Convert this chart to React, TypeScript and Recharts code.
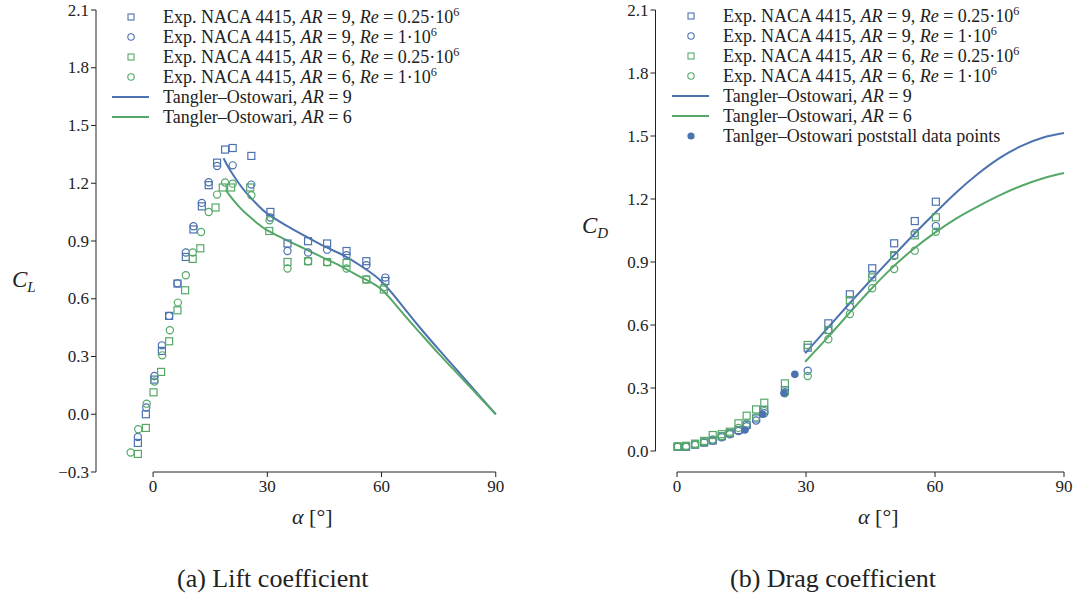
import React from "react";
import { ComposedChart, Scatter, Line, XAxis, YAxis, ReferenceLine } from "recharts";

const BLUE = "#4c72b0";
const GREEN = "#55a868";
const INK = "#222";
const SERIF = "Liberation Serif, Times New Roman, serif";

// ---- lift coefficient: experiments (alpha in deg) ----
const clAlpha9Lo = [-4, -1.9, 0.3, 2.3, 4.2, 6.4, 8.6, 10.6, 12.8, 14.6, 16.8, 18.9, 20.9, 25.8, 30.8, 35.3, 40.7, 45.7, 50.8, 56, 61];
const cl9Lo = [-0.149, 0.0, 0.18, 0.329, 0.511, 0.679, 0.817, 0.96, 1.08, 1.19, 1.307, 1.375, 1.383, 1.342, 1.051, 0.887, 0.899, 0.887, 0.848, 0.795, 0.692];
const clAlpha9Hi = [-4, -1.8, 0.35, 2.3, 4.2, 6.4, 8.6, 10.6, 12.8, 14.6, 16.8, 20.9, 25.8, 30.8, 35.3, 40.7, 45.7, 50.8, 56, 61];
const cl9Hi = [-0.118, 0.035, 0.199, 0.358, 0.511, 0.68, 0.84, 0.977, 1.098, 1.205, 1.29, 1.293, 1.193, 1.022, 0.848, 0.84, 0.855, 0.826, 0.774, 0.71];
const clAlpha6Lo = [-4, -1.9, 0.1, 2.1, 4.2, 6.4, 8.4, 10.4, 12.4, 16.4, 18.3, 20.5, 25.5, 30.5, 35.3, 40.7, 45.7, 50.8, 56, 60.6];
const cl6Lo = [-0.206, -0.071, 0.114, 0.22, 0.379, 0.54, 0.644, 0.807, 0.862, 1.074, 1.178, 1.178, 1.178, 0.952, 0.791, 0.795, 0.791, 0.786, 0.7, 0.648];
const clAlpha6Hi = [-5.9, -3.9, -1.7, 0.35, 2.4, 4.4, 6.5, 8.6, 10.4, 12.6, 14.6, 16.8, 18.9, 20.9, 25.8, 30.6, 35.3, 40.7, 45.7, 50.8, 56, 60.6];
const cl6Hi = [-0.199, -0.078, 0.055, 0.17, 0.306, 0.436, 0.58, 0.722, 0.84, 0.947, 1.051, 1.141, 1.204, 1.198, 1.138, 1.008, 0.757, 0.795, 0.79, 0.757, 0.7, 0.66];

// ---- lift coefficient: Tangler-Ostowari ----
const clTOAlpha9 = [18.5, 20, 22.5, 25, 27.5, 30, 35, 40, 45, 50, 55, 60, 65, 70, 75, 80, 85, 90];
const clTO9 = [1.33, 1.275, 1.2, 1.138, 1.086, 1.042, 0.98, 0.925, 0.872, 0.825, 0.765, 0.69, 0.575, 0.452, 0.337, 0.225, 0.112, 0];
const clTOAlpha6 = [19.2, 20, 22.5, 25, 27.5, 30, 35, 40, 45, 50, 55, 60, 65, 70, 75, 80, 85, 90];
const clTO6 = [1.164, 1.14, 1.08, 1.032, 0.99, 0.955, 0.905, 0.858, 0.81, 0.762, 0.708, 0.648, 0.538, 0.425, 0.315, 0.21, 0.105, 0];

// ---- drag coefficient: experiments ----
const cdAlpha = [0.15, 2.1, 4.2, 6.3, 8.3, 10.4, 12.3, 14.3, 16.2, 18.4, 20.3, 25.1, 30.4, 35.2, 40.2, 45.4, 50.5, 55.3, 60.2];
const cd9Lo = [0.02, 0.02, 0.03, 0.04, 0.05, 0.07, 0.085, 0.1, 0.125, 0.155, 0.195, 0.29, 0.492, 0.608, 0.746, 0.87, 0.989, 1.095, 1.187];
const cd9Hi = [0.02, 0.02, 0.03, 0.04, 0.05, 0.065, 0.08, 0.095, 0.118, 0.145, 0.18, 0.28, 0.382, 0.576, 0.687, 0.84, 0.93, 1.037, 1.071];
const cd6Lo = [0.022, 0.025, 0.035, 0.048, 0.076, 0.08, 0.092, 0.132, 0.168, 0.198, 0.23, 0.322, 0.505, 0.576, 0.719, 0.827, 0.933, 1.027, 1.113];
const cd6Hi = [0.02, 0.02, 0.03, 0.042, 0.055, 0.07, 0.085, 0.11, 0.13, 0.16, 0.19, 0.275, 0.357, 0.532, 0.652, 0.775, 0.867, 0.954, 1.044];
const poststallAlpha = [15.8, 19.9, 24.9, 27.4];
const poststallCd = [0.1, 0.175, 0.275, 0.365];

// ---- drag coefficient: Tangler-Ostowari ----
const cdTOAlpha = [29.8, 35, 40, 45, 50, 55, 60, 65, 70, 75, 80, 85, 90];
const cdTO9 = [0.465, 0.585, 0.7, 0.812, 0.922, 1.03, 1.133, 1.232, 1.32, 1.395, 1.452, 1.492, 1.514];
const cdTO6 = [0.425, 0.54, 0.655, 0.768, 0.872, 0.962, 1.04, 1.108, 1.165, 1.217, 1.262, 1.298, 1.324];

const alphaTicks = [0, 30, 60, 90];
const clTicks = [-0.3, 0, 0.3, 0.6, 0.9, 1.2, 1.5, 1.8, 2.1];
const cdTicks = [0, 0.3, 0.6, 0.9, 1.2, 1.5, 1.8, 2.1];

const pts = (a: number[], v: number[]) => a.map((x, i) => ({ a: x, v: v[i] }));

const fmt = (v: number) => (v < 0 ? "\u2212" + Math.abs(v).toFixed(1) : v.toFixed(1));

const square = (color: string) => (p: any) => (
  <rect x={p.cx - 3.5} y={p.cy - 3.5} width={7} height={7} fill="none" stroke={color} strokeWidth={1.2} />
);
const circle = (color: string) => (p: any) => (
  <circle cx={p.cx} cy={p.cy} r={3.6} fill="none" stroke={color} strokeWidth={1.2} />
);
const dot = (p: any) => <circle cx={p.cx} cy={p.cy} r={3.8} fill={BLUE} />;

const XTick = (p: any) => (
  <text x={p.x} y={p.y} dy={13} textAnchor="middle" fill={INK} fontSize={17} fontFamily={SERIF}>
    {p.payload.value}
  </text>
);
const YTick = (p: any) => (
  <text x={p.x} y={p.y} dy={5.5} textAnchor="end" fill={INK} fontSize={17} fontFamily={SERIF}>
    {fmt(p.payload.value)}
  </text>
);

function Marker({ kind, color }: { kind: string; color: string }) {
  return (
    <svg width={51} height={20} style={{ display: "block" }}>
      {kind === "square" && <rect x={16} y={7} width={6} height={6} fill="none" stroke={color} strokeWidth={1.1} />}
      {kind === "circle" && <circle cx={19} cy={10} r={3.2} fill="none" stroke={color} strokeWidth={1.1} />}
      {kind === "line" && <line x1={0} x2={37} y1={10} y2={10} stroke={color} strokeWidth={2} />}
      {kind === "dot" && <circle cx={19} cy={10} r={3.6} fill={color} />}
    </svg>
  );
}

function Row({ kind, color, children }: { kind: string; color: string; children: React.ReactNode }) {
  return (
    <div style={{ display: "flex", alignItems: "center", height: 20, lineHeight: "20px", whiteSpace: "nowrap" }}>
      <Marker kind={kind} color={color} />
      <span>{children}</span>
    </div>
  );
}

const Sup = ({ children }: { children: React.ReactNode }) => (
  <sup style={{ fontSize: "0.68em", lineHeight: 0, verticalAlign: "0.55em" }}>{children}</sup>
);

function ExpRows() {
  return (
    <>
      <Row kind="square" color={BLUE}>Exp. NACA 4415, <i>AR</i> = 9, <i>Re</i> = 0.25·10<Sup>6</Sup></Row>
      <Row kind="circle" color={BLUE}>Exp. NACA 4415, <i>AR</i> = 9, <i>Re</i> = 1·10<Sup>6</Sup></Row>
      <Row kind="square" color={GREEN}>Exp. NACA 4415, <i>AR</i> = 6, <i>Re</i> = 0.25·10<Sup>6</Sup></Row>
      <Row kind="circle" color={GREEN}>Exp. NACA 4415, <i>AR</i> = 6, <i>Re</i> = 1·10<Sup>6</Sup></Row>
      <Row kind="line" color={BLUE}>Tangler–Ostowari, <i>AR</i> = 9</Row>
      <Row kind="line" color={GREEN}>Tangler–Ostowari, <i>AR</i> = 6</Row>
    </>
  );
}

const abs = (left: number, top: number, extra: React.CSSProperties = {}): React.CSSProperties => ({
  position: "absolute",
  left,
  top,
  fontFamily: SERIF,
  color: INK,
  ...extra,
});

function AxisTitle({ left, top, main, sub }: { left: number; top: number; main: string; sub: string }) {
  return (
    <div style={abs(left, top, { fontSize: 23, fontStyle: "italic", lineHeight: "24px" })}>
      {main}
      <span style={{ fontSize: 15, verticalAlign: "-0.3em" }}>{sub}</span>
    </div>
  );
}

function AlphaTitle({ left, top }: { left: number; top: number }) {
  return (
    <div style={abs(left, top, { fontSize: 22, lineHeight: "24px" })}>
      <i>α</i> [°]
    </div>
  );
}

export default function App() {
  return (
    <div style={{ position: "absolute", left: 0, top: 0, width: 1076, height: 598, background: "#fff" }}>
      {/* (a) lift */}
      <div style={{ position: "absolute", left: 0, top: 0 }}>
        <ComposedChart width={520} height={598} margin={{ top: 10, right: 5.2, left: 36, bottom: 96 }}>
          <XAxis
            type="number"
            dataKey="a"
            domain={[-15, 95]}
            ticks={alphaTicks}
            allowDataOverflow
            axisLine={false}
            tickLine={{ stroke: INK }}
            tickSize={5}
            height={30}
            tick={XTick}
          />
          <YAxis
            type="number"
            dataKey="v"
            domain={[-0.3, 2.1]}
            ticks={clTicks}
            allowDataOverflow
            axisLine={{ stroke: INK }}
            tickLine={{ stroke: INK }}
            tickSize={5}
            width={60}
            tick={YTick}
          />
          <ReferenceLine segment={[{ x: 0, y: -0.3 }, { x: 90, y: -0.3 }]} stroke={INK} ifOverflow="visible" />
          <Line data={pts(clTOAlpha9, clTO9)} dataKey="v" type="natural" stroke={BLUE} strokeWidth={2} dot={false} isAnimationActive={false} />
          <Line data={pts(clTOAlpha6, clTO6)} dataKey="v" type="natural" stroke={GREEN} strokeWidth={2} dot={false} isAnimationActive={false} />
          <Scatter data={pts(clAlpha9Lo, cl9Lo)} shape={square(BLUE)} isAnimationActive={false} />
          <Scatter data={pts(clAlpha9Hi, cl9Hi)} shape={circle(BLUE)} isAnimationActive={false} />
          <Scatter data={pts(clAlpha6Lo, cl6Lo)} shape={square(GREEN)} isAnimationActive={false} />
          <Scatter data={pts(clAlpha6Hi, cl6Hi)} shape={circle(GREEN)} isAnimationActive={false} />
        </ComposedChart>
      </div>

      {/* (b) drag */}
      <div style={{ position: "absolute", left: 560, top: 0 }}>
        <ComposedChart width={516} height={598} margin={{ top: 10, right: 3.4, left: 35.5, bottom: 96 }}>
          <XAxis
            type="number"
            dataKey="a"
            domain={[-5, 92]}
            ticks={alphaTicks}
            allowDataOverflow
            axisLine={false}
            tickLine={{ stroke: INK }}
            tickSize={5}
            height={30}
            tick={XTick}
          />
          <YAxis
            type="number"
            dataKey="v"
            domain={[-0.1, 2.1]}
            ticks={cdTicks}
            allowDataOverflow
            axisLine={false}
            tickLine={{ stroke: INK }}
            tickSize={5}
            width={60}
            tick={YTick}
          />
          <ReferenceLine segment={[{ x: -5, y: 0 }, { x: -5, y: 2.1 }]} stroke={INK} ifOverflow="visible" />
          <ReferenceLine segment={[{ x: 0, y: -0.1 }, { x: 90, y: -0.1 }]} stroke={INK} ifOverflow="visible" />
          <Line data={pts(cdTOAlpha, cdTO9)} dataKey="v" type="natural" stroke={BLUE} strokeWidth={2} dot={false} isAnimationActive={false} />
          <Line data={pts(cdTOAlpha, cdTO6)} dataKey="v" type="natural" stroke={GREEN} strokeWidth={2} dot={false} isAnimationActive={false} />
          <Scatter data={pts(cdAlpha, cd9Lo)} shape={square(BLUE)} isAnimationActive={false} />
          <Scatter data={pts(cdAlpha, cd9Hi)} shape={circle(BLUE)} isAnimationActive={false} />
          <Scatter data={pts(cdAlpha, cd6Lo)} shape={square(GREEN)} isAnimationActive={false} />
          <Scatter data={pts(cdAlpha, cd6Hi)} shape={circle(GREEN)} isAnimationActive={false} />
          <Scatter data={pts(poststallAlpha, poststallCd)} shape={dot} isAnimationActive={false} />
        </ComposedChart>
      </div>

      {/* legends */}
      <div style={abs(112, 7, { fontSize: 18 })}>
        <ExpRows />
      </div>
      <div style={abs(672, 6, { fontSize: 18 })}>
        <ExpRows />
        <Row kind="dot" color={BLUE}>Tanlger–Ostowari poststall data points</Row>
      </div>

      {/* axis titles */}
      <AxisTitle left={12} top={268} main="C" sub="L" />
      <AxisTitle left={582} top={214} main="C" sub="D" />
      <AlphaTitle left={292} top={505} />
      <AlphaTitle left={858} top={505} />

      {/* captions */}
      <div style={abs(177, 564, { fontSize: 26, lineHeight: "30px" })}>(a) Lift coefficient</div>
      <div style={abs(730, 564, { fontSize: 26, lineHeight: "30px" })}>(b) Drag coefficient</div>
    </div>
  );
}
